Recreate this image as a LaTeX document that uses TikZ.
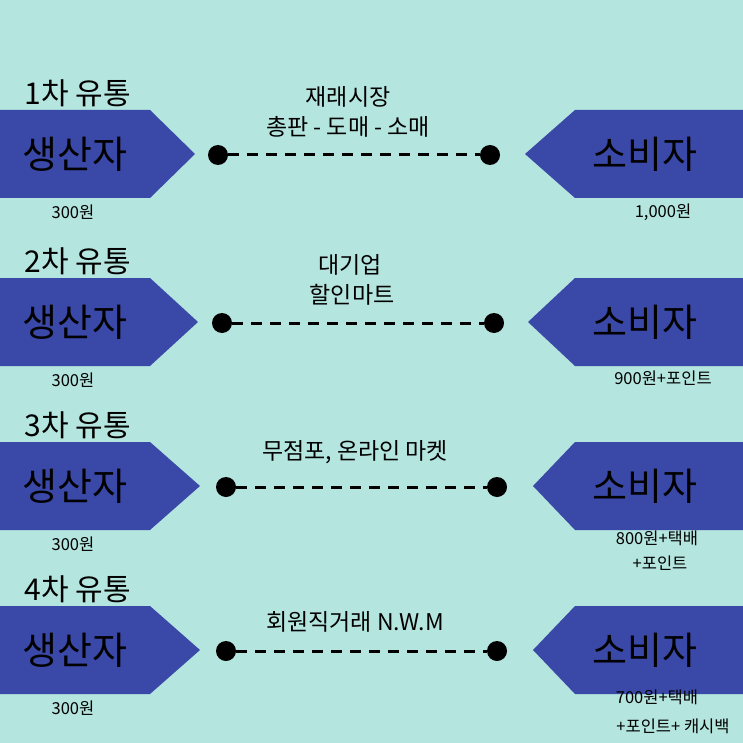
\documentclass[tikz,border=0pt]{standalone}
\usepackage{fontspec}
\setmainfont{Noto Sans CJK KR}
\definecolor{bg}{RGB}{180,229,223}
\definecolor{nav}{RGB}{58,72,168}
\begin{document}
\begin{tikzpicture}[x=1pt,y=-1pt,
  shp/.style={fill=nav},
  big/.style={font=\fontsize{38}{40}\selectfont},
  head/.style={font=\fontsize{30}{32}\selectfont},
  lab/.style={font=\fontsize{23}{25}\selectfont},
  small/.style={font=\fontsize{16.5}{18}\selectfont},
  dot/.style={circle,fill=black,inner sep=0pt,minimum size=20pt},
  dl/.style={line width=3pt,dash pattern=on 11pt off 8pt}]
\fill[bg] (0,0) rectangle (743,743);
\foreach \c/\lt/\rt/\da/\db/\n in {154/195/525/218/490/1,322/198/528/222/494/2,486/200/533/226/497/3,650/200/533/226/497/4}{
  \fill[shp] (0,\c-44) -- (150,\c-44) -- (\lt,\c) -- (150,\c+44) -- (0,\c+44) -- cycle;
  \fill[shp] (743,\c-44) -- (575,\c-44) -- (\rt,\c) -- (575,\c+44) -- (743,\c+44) -- cycle;
  \node[big,text=black] (p\n) at (75,\c) {생산자};
  \node[big,text=black] (c\n) at (645,\c) {소비자};
  \node[head] (h\n) at (78,\c-61) {{\n}차 유통};
  \node[small] (w\n) at (73,\c+58) {300원};
  \node[dot] (a\n) at (\da,\c+1) {};
  \node[dot] (b\n) at (\db,\c+1) {};
  \draw[dl] (a\n) -- (b\n);
}
\node[lab] (l1a) at (348,97) {재래시장};
\node[lab] (l1b) at (348,127) {총판 - 도매 - 소매};
\node[lab] (l2a) at (350,265) {대기업};
\node[lab] (l2b) at (352,295) {할인마트};
\node[lab] (l3) at (355,452) {무점포, 온라인 마켓};
\node[lab] (l4) at (355,622) {회원직거래 N.W.M};
\node[small] (r1) at (663,212) {1,000원};
\node[small] (r2) at (663,378) {900원+포인트};
\node[small] (r3a) at (657,538) {800원+택배};
\node[small] (r3b) at (660,563) {+포인트};
\node[small] (r4a) at (657,697) {700원+택배};
\node[small] (r4b) at (673,726) {+포인트+ 캐시백};
\end{tikzpicture}
\end{document}
